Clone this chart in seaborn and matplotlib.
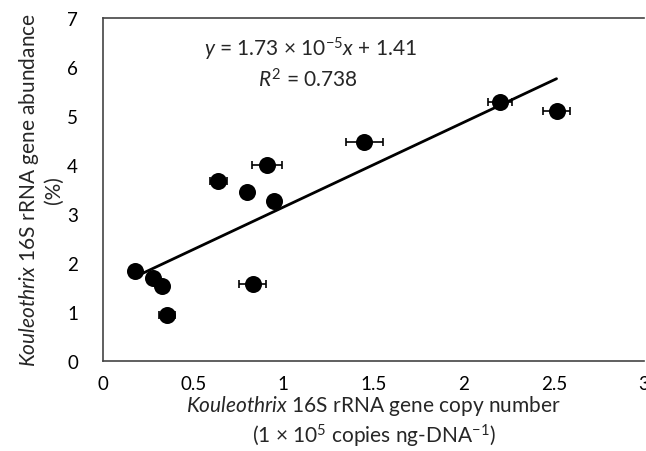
import numpy as np
import pandas as pd
from matplotlib import pyplot as plt
import seaborn as sns

# copy number (1e5 copies ng-DNA^-1) vs. abundance (%)
copy_number = [0.177, 0.28, 0.33, 0.355, 0.83, 0.64, 0.80, 0.91, 0.95, 1.45, 2.20, 2.515]
abundance = [1.84, 1.69, 1.53, 0.94, 1.57, 3.67, 3.45, 4.00, 3.27, 4.47, 5.29, 5.10]
copy_err = [0.0, 0.0, 0.0, 0.047, 0.075, 0.047, 0.0, 0.083, 0.0, 0.10, 0.066, 0.075]

slope = 1.73
intercept = 1.41
r_squared = 0.738

x_ticks = [0, 0.5, 1, 1.5, 2, 2.5, 3]
x_tick_labels = ["0", "0.5", "1", "1.5", "2", "2.5", "3"]
y_ticks = [0, 1, 2, 3, 4, 5, 6, 7]

df = pd.DataFrame({"x": copy_number, "y": abundance, "xerr": copy_err})
fit_x = np.array([min(copy_number), max(copy_number)])
fit = pd.DataFrame({"x": fit_x, "y": slope * fit_x + intercept})

sns.set_theme(style="white")
plt.rcParams["font.family"] = ["Lato", "DejaVu Sans"]
plt.rcParams["mathtext.fontset"] = "custom"
plt.rcParams["mathtext.rm"] = "Lato"
plt.rcParams["mathtext.it"] = "Lato:italic"

fig = plt.figure(figsize=(6.46, 4.52), dpi=100)
ax = fig.add_axes([0.1594, 0.199, 0.9969 - 0.1594, 0.958 - 0.199])

sns.lineplot(data=fit, x="x", y="y", color="black", linewidth=2, ax=ax)
ax.errorbar(df["x"], df["y"], xerr=df["xerr"], fmt="none", ecolor="black",
            elinewidth=1.2, capsize=3, capthick=1.2, zorder=3)
sns.scatterplot(data=df, x="x", y="y", color="black", s=150, edgecolor="black",
                linewidth=0, zorder=4, ax=ax)

ax.set_xlim(0, 3)
ax.set_ylim(0, 7)
ax.set_xticks(x_ticks)
ax.set_xticklabels(x_tick_labels)
ax.set_yticks(y_ticks)
ax.tick_params(axis="x", direction="in", length=4, width=1, labelsize=13.5,
               pad=10, colors="#333333")
ax.tick_params(axis="y", direction="out", length=4, width=1, labelsize=13.5,
               pad=14, colors="#333333")
ax.tick_params(labelcolor="black")

for side in ["left", "bottom", "top"]:
    ax.spines[side].set_color("#444444")
    ax.spines[side].set_linewidth(1.2)
ax.spines["right"].set_visible(False)

ax.set_xlabel("$\\it{Kouleothrix}$ 16S rRNA gene copy number\n"
              "(1 × 10$^{5}$ copies ng-DNA$^{\\mathrm{-1}}$)",
              fontsize=15, linespacing=1.22, labelpad=1)
ax.set_ylabel("$\\it{Kouleothrix}$ 16S rRNA gene abundance\n(%)",
              fontsize=15, linespacing=1.2, labelpad=2)

ax.text(0.56, 6.37, "$\\it{y}$ = 1.73 × 10$^{-5}$$\\it{x}$ + 1.41",
        fontsize=15, ha="left", va="center")
ax.text(0.86, 5.76, f"$\\it{{R}}^{{2}}$ = {r_squared:.3f}",
        fontsize=15, ha="left", va="center")

plt.savefig("out.png", dpi=100)
